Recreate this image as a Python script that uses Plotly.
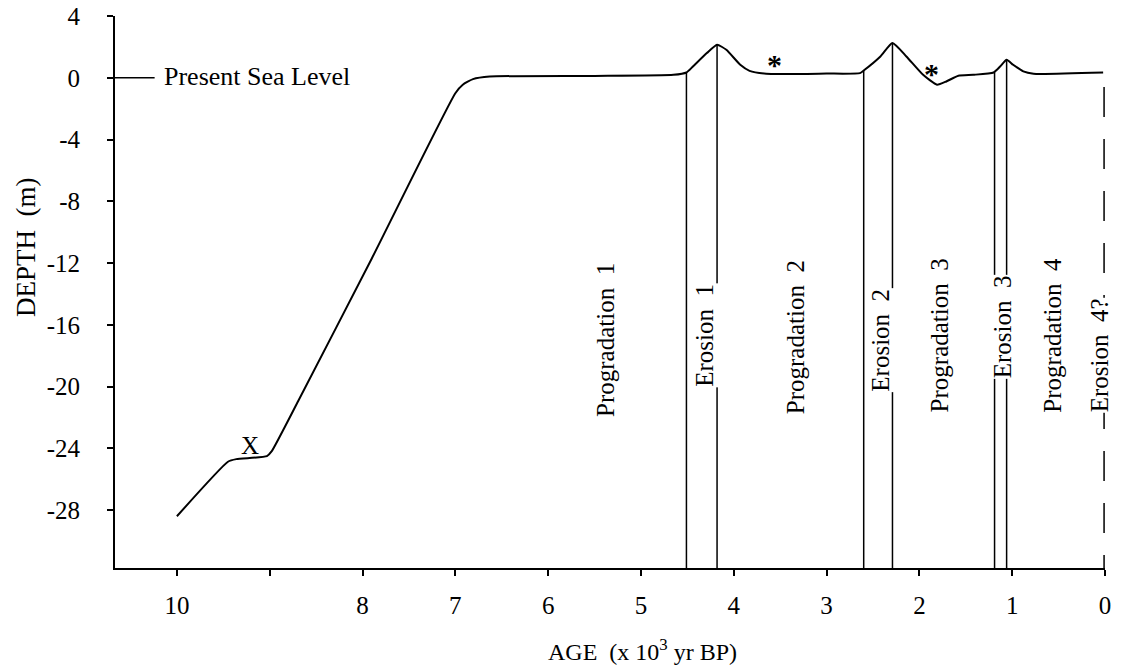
import plotly.graph_objects as go

# sea-level curve (age in 10^3 yr BP, depth in m)
age = [10.0, 9.45, 9.36, 9.03, 8.98, 8.69, 7.90, 7.00, 6.92, 6.81, 6.63, 5.5, 4.65,
       4.51, 4.44, 4.29, 4.18, 4.08, 3.93, 3.83, 3.65, 3.0, 2.64, 2.60, 2.42, 2.29,
       2.14, 1.96, 1.81, 1.71, 1.58, 1.42, 1.20, 1.13, 1.06, 0.99, 0.88, 0.77, 0.02]
depth = [-28.4, -24.87, -24.7, -24.5, -24.2, -20.9, -11.7, -1.0, -0.45, -0.09, 0.08, 0.12, 0.19,
         0.34, 0.73, 1.6, 2.14, 1.81, 0.84, 0.45, 0.26, 0.27, 0.3, 0.47, 1.38, 2.25,
         1.38, 0.19, -0.45, -0.24, 0.13, 0.19, 0.34, 0.73, 1.17, 0.84, 0.41, 0.26, 0.34]

# unit boundaries (solid) and their tops on the curve
boundary_age = [4.51, 4.18, 2.60, 2.29, 1.19, 1.06]
boundary_top = [0.34, 2.14, 0.47, 2.25, 0.34, 1.17]
# uncertain boundary (dashed)
dashed_age = [0.01]
dashed_top = [-0.6]

unit_names = ["Progradation  1", "Erosion  1", "Progradation  2", "Erosion  2",
              "Progradation  3", "Erosion  3", "Progradation  4", "Erosion  4?"]

x_ticks = [10, 9, 8, 7, 6, 5, 4, 3, 2, 1, 0]
x_ticktext = ["10", " ", "8", "7", "6", "5", "4", "3", "2", "1", "0"]
y_ticks = [4, 0, -4, -8, -12, -16, -20, -24, -28]
y_ticktext = ["4", "0", "-4", "-8", "-12", "-16", "-20", "-24", "-28"]

X_RANGE = [10.667, 0]
Y_RANGE = [-31.75, 4]
FONT = "Liberation Serif"
W, H = 1121, 666
L, R, T, B = 115, 16, 16, 98

fig = go.Figure()

fig.add_trace(go.Scatter(x=age, y=depth, mode="lines",
                         line=dict(color="black", width=2, shape="spline", smoothing=0.5),
                         hoverinfo="skip"))

for a, top in zip(boundary_age, boundary_top):
    fig.add_trace(go.Scatter(x=[a, a], y=[top, Y_RANGE[0]], mode="lines",
                             line=dict(color="black", width=1.5), hoverinfo="skip"))

for a, top in zip(dashed_age, dashed_top):
    fig.add_trace(go.Scatter(x=[a, a], y=[top, Y_RANGE[0]], mode="lines",
                             line=dict(color="black", width=1.5, dash="30px,22px"),
                             hoverinfo="skip"))

# label placement (age, depth) for each unit name
label_pos = [(5.39, -17.0), (4.31, -16.65), (3.34, -16.8), (2.42, -17.0),
             (1.78, -16.7), (1.11, -16.1), (0.56, -16.7), (0.05, -17.95)]
for name, (lx, ly) in zip(unit_names, label_pos):
    is_erosion = name.startswith("Erosion")
    fig.add_annotation(x=lx, y=ly, text=name, textangle=-90, showarrow=False,
                       font=dict(family=FONT, size=25, color="black"),
                       bgcolor="white" if is_erosion else None, borderpad=0)

# present sea level marker
fig.add_shape(type="line", x0=10.75, x1=10.24, y0=0, y1=0, xref="x", yref="y",
              line=dict(color="black", width=1.5))
fig.add_annotation(x=10.16, y=0.1, text="Present Sea Level", showarrow=False,
                   xanchor="left", font=dict(family=FONT, size=26, color="black"))

fig.add_annotation(x=9.21, y=-23.8, text="X", showarrow=False,
                   font=dict(family=FONT, size=25, color="black"))
fig.add_annotation(x=3.56, y=0.85, text="<b>*</b>", showarrow=False,
                   font=dict(family=FONT, size=30, color="black"))
fig.add_annotation(x=1.87, y=0.3, text="<b>*</b>", showarrow=False,
                   font=dict(family=FONT, size=30, color="black"))

# axis titles, placed in pixels then converted to paper coordinates
titles = [("DEPTH  (m)", 26, 248, -90, 27), ("AGE  (x 10<sup>3</sup> yr BP)", 642, 650, 0, 24)]
for text, px, py, ang, size in titles:
    fig.add_annotation(x=(px - L) / (W - L - R), y=1 - (py - T) / (H - T - B),
                       xref="paper", yref="paper", text=text, textangle=ang,
                       xanchor="center", yanchor="middle",
                       showarrow=False, font=dict(family=FONT, size=size, color="black"))

fig.update_layout(
    width=W, height=H,
    margin=dict(l=L, r=R, t=T, b=B, autoexpand=False),
    paper_bgcolor="white", plot_bgcolor="white",
    showlegend=False,
    font=dict(family=FONT, size=25, color="black"),
)
fig.update_xaxes(range=X_RANGE, tickvals=x_ticks, ticktext=x_ticktext, automargin=False,
                 showgrid=False, zeroline=False, showline=True, linecolor="black",
                 linewidth=2, ticks="outside", ticklen=6, tickwidth=1.5,
                 tickcolor="black", ticklabelstandoff=8)
fig.update_yaxes(range=Y_RANGE, tickvals=y_ticks, ticktext=y_ticktext, automargin=False,
                 showgrid=False, zeroline=False, showline=True, linecolor="black",
                 linewidth=2, ticks="outside", ticklen=6, tickwidth=1.5,
                 tickcolor="black", ticklabelstandoff=22)

# drop the default page margin so the figure sits at the window's corner
fig.write_html("out.html", config={"displayModeBar": False},
               post_script="document.body.style.margin='0';")
